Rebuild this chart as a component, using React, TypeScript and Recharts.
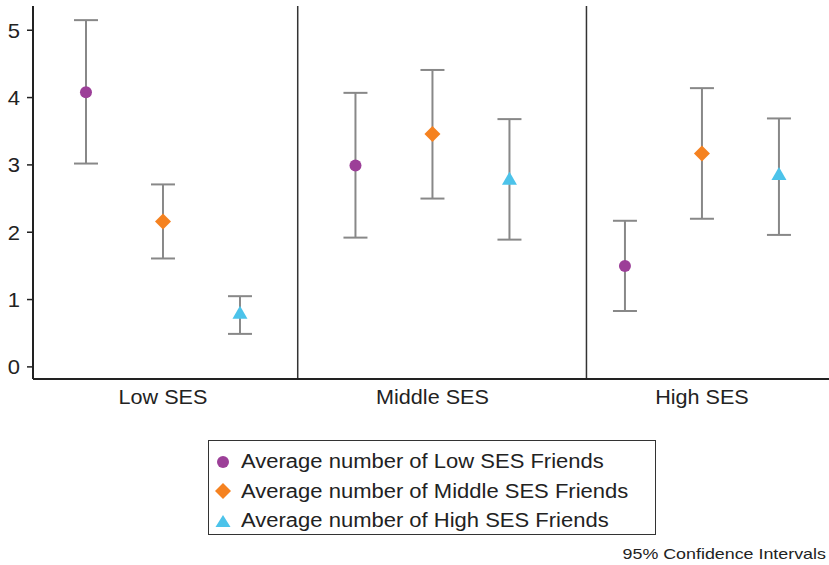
import React from 'react'
import {
  ScatterChart,
  Scatter,
  XAxis,
  YAxis,
  ErrorBar,
  ReferenceLine
} from 'recharts'

const groups = ['Low SES', 'Middle SES', 'High SES']
const yTicks = [0, 1, 2, 3, 4, 5]

// average number of friends per SES group, with 95% CI bounds
const lowFriends = [4.08, 2.99, 1.5]
const lowFriendsLo = [3.02, 1.92, 0.83]
const lowFriendsHi = [5.15, 4.07, 2.17]

const midFriends = [2.16, 3.46, 3.17]
const midFriendsLo = [1.61, 2.5, 2.2]
const midFriendsHi = [2.71, 4.41, 4.14]

const highFriends = [0.79, 2.78, 2.85]
const highFriendsLo = [0.49, 1.89, 1.96]
const highFriendsHi = [1.05, 3.68, 3.69]

const seriesNames = [
  'Average number of Low SES Friends',
  'Average number of Middle SES Friends',
  'Average number of High SES Friends'
]

const PURPLE = '#9c3f98'
const ORANGE = '#f58220'
const BLUE = '#4cc3ea'
const TEXT = '#222'
const FONT = '"Liberation Sans", Arial, sans-serif'

// slot on the x axis: 3 points per group, gap between groups
const slot = (g: number, s: number) => 1 + g * 3.5 + s
const groupCenter = (g: number) => slot(g, 1)

const build = (vals: number[], lo: number[], hi: number[], s: number) =>
  vals.map((v, g) => ({
    x: slot(g, s),
    y: v,
    err: [v - lo[g], hi[g] - v]
  }))

const lowData = build(lowFriends, lowFriendsLo, lowFriendsHi, 0)
const midData = build(midFriends, midFriendsLo, midFriendsHi, 1)
const highData = build(highFriends, highFriendsLo, highFriendsHi, 2)

const CircleShape = (props: any) => (
  <circle cx={props.cx} cy={props.cy} r={6} fill={PURPLE} />
)

const DiamondShape = (props: any) => {
  const { cx, cy } = props
  const r = 8
  return (
    <polygon
      points={`${cx},${cy - r} ${cx + r},${cy} ${cx},${cy + r} ${cx - r},${cy}`}
      fill={ORANGE}
    />
  )
}

const TriangleShape = (props: any) => {
  const { cx, cy } = props
  return (
    <polygon
      points={`${cx},${cy - 8} ${cx + 7.5},${cy + 5} ${cx - 7.5},${cy + 5}`}
      fill={BLUE}
    />
  )
}

const XTick = (props: any) => {
  const { x, y, payload } = props
  const idx = groups.findIndex((_, i) => groupCenter(i) === payload.value)
  return (
    <text
      transform={`translate(${x},${y + 25}) scale(1.08,1)`}
      textAnchor='middle'
      fill={TEXT}
      fontSize={20}
      fontFamily={FONT}
    >
      {groups[idx]}
    </text>
  )
}

const YTick = (props: any) => {
  const { x, y, payload } = props
  return (
    <text
      transform={`translate(${x},${y + 7.3}) scale(1.1,1)`}
      textAnchor='end'
      fill={TEXT}
      fontSize={20}
      fontFamily={FONT}
    >
      {payload.value}
    </text>
  )
}

const legendMarks = [
  <svg width={14} height={14} key='c'>
    <circle cx={7} cy={7} r={6} fill={PURPLE} />
  </svg>,
  <svg width={16} height={16} key='d'>
    <polygon points='8,0 16,8 8,16 0,8' fill={ORANGE} />
  </svg>,
  <svg width={16} height={14} key='t'>
    <polygon points='8,1 15.5,13 0.5,13' fill={BLUE} />
  </svg>
]

export default function App() {
  return (
    <div
      style={{
        position: 'absolute',
        left: 0,
        top: 0,
        width: 829,
        height: 565,
        background: '#fff',
        fontFamily: FONT
      }}
    >
      <ScatterChart
        width={829}
        height={420}
        margin={{ top: 6, right: 0, left: 0, bottom: 0 }}
      >
        <XAxis
          type='number'
          dataKey='x'
          domain={[0.312, 10.65]}
          ticks={groups.map((_, i) => groupCenter(i))}
          tickLine={false}
          tickSize={0}
          tickMargin={0}
          height={41}
          allowDataOverflow
          axisLine={{ stroke: '#222', strokeWidth: 2 }}
          tick={<XTick />}
        />
        <YAxis
          type='number'
          dataKey='y'
          domain={[-0.18, 5.36]}
          ticks={yTicks}
          width={33}
          allowDataOverflow
          tickSize={6}
          tickMargin={7}
          axisLine={{ stroke: '#222', strokeWidth: 2 }}
          tickLine={{ stroke: '#222', strokeWidth: 1.5 }}
          tick={<YTick />}
        />
        <ReferenceLine x={3.75} stroke='#333' strokeWidth={1.5} />
        <ReferenceLine x={7.5} stroke='#333' strokeWidth={1.5} />
        <Scatter
          name={seriesNames[0]}
          data={lowData}
          shape={CircleShape}
          isAnimationActive={false}
        >
          <ErrorBar
            dataKey='err'
            direction='y'
            width={12}
            stroke='#888'
            strokeWidth={2}
          />
        </Scatter>
        <Scatter
          name={seriesNames[1]}
          data={midData}
          shape={DiamondShape}
          isAnimationActive={false}
        >
          <ErrorBar
            dataKey='err'
            direction='y'
            width={12}
            stroke='#888'
            strokeWidth={2}
          />
        </Scatter>
        <Scatter
          name={seriesNames[2]}
          data={highData}
          shape={TriangleShape}
          isAnimationActive={false}
        >
          <ErrorBar
            dataKey='err'
            direction='y'
            width={12}
            stroke='#888'
            strokeWidth={2}
          />
        </Scatter>
      </ScatterChart>

      <div
        style={{
          position: 'absolute',
          left: 208,
          top: 440,
          width: 448,
          height: 95,
          border: '1px solid #333',
          boxSizing: 'border-box',
          paddingTop: 6
        }}
      >
        {seriesNames.map((name, i) => (
          <div
            key={name}
            style={{
              display: 'flex',
              alignItems: 'center',
              height: 29.5,
              fontSize: 20,
              color: TEXT
            }}
          >
            <div
              style={{
                width: 16,
                marginLeft: 6,
                marginRight: 10,
                display: 'flex',
                justifyContent: 'center'
              }}
            >
              {legendMarks[i]}
            </div>
            <span
              style={{
                display: 'inline-block',
                whiteSpace: 'nowrap',
                transform: 'scaleX(1.1)',
                transformOrigin: 'left center'
              }}
            >
              {name}
            </span>
          </div>
        ))}
      </div>

      <div
        style={{
          position: 'absolute',
          right: 3,
          top: 545,
          fontSize: 15,
          color: TEXT,
          whiteSpace: 'nowrap',
          transform: 'scaleX(1.19)',
          transformOrigin: 'right center'
        }}
      >
        95% Confidence Intervals
      </div>
    </div>
  )
}
